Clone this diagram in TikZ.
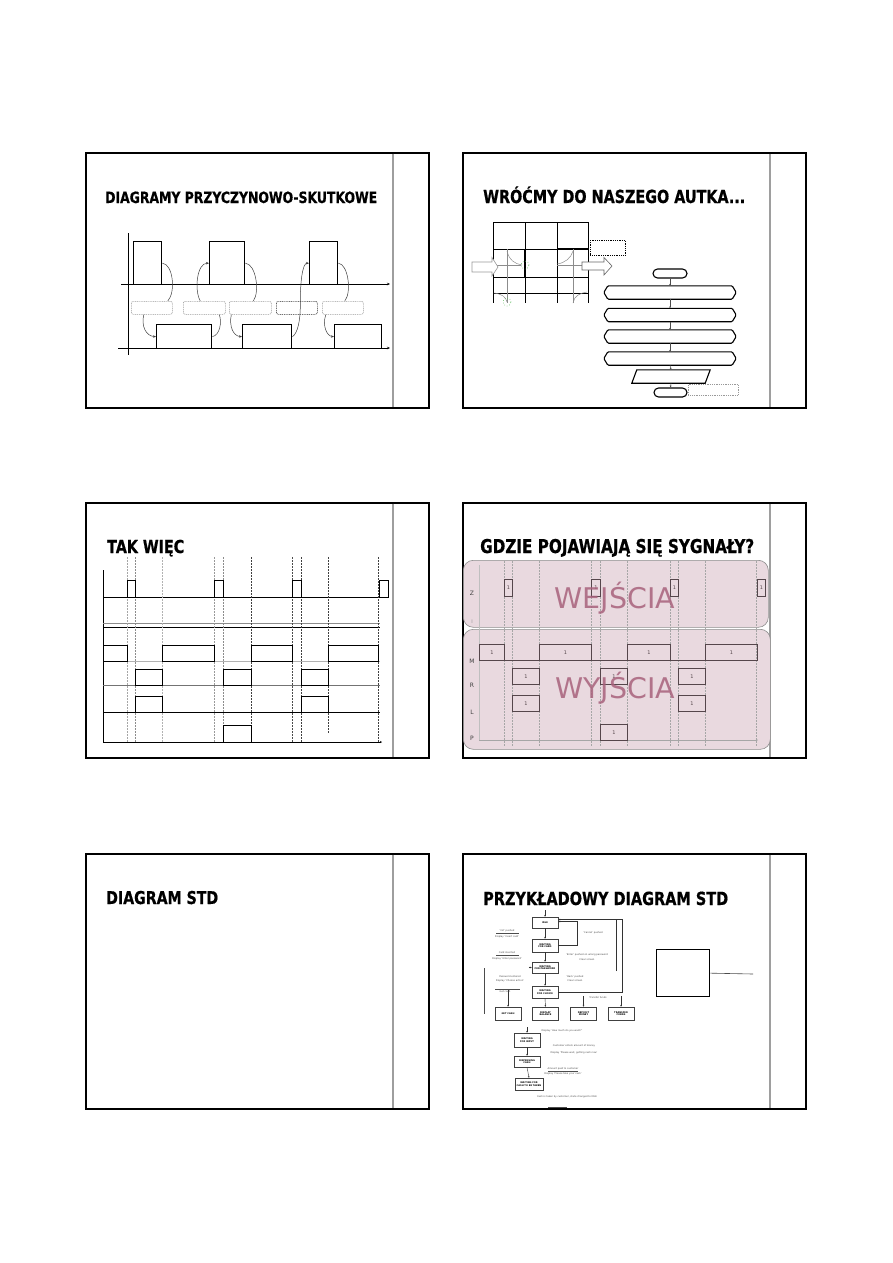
\documentclass[tikz,border=0pt]{standalone}
\usepackage{fontspec}
\setmainfont{DejaVu Sans}
\newfontfamily\tfont{DejaVu Sans}[FakeStretch=0.8,BoldFeatures={FakeBold=0.6}]
\usetikzlibrary{arrows.meta,calc,shadows}
\definecolor{pinkbg}{RGB}{233,217,223}
\definecolor{mauve}{RGB}{168,98,124}
\definecolor{boxc}{RGB}{85,70,75}
\definecolor{greenc}{RGB}{90,185,90}
\begin{document}
\begin{tikzpicture}[x=1pt,y=-1pt,
  frame/.style={draw=black,line width=1.3pt},
  divider/.style={draw=black!38,line width=1.6pt},
  ttl/.style={anchor=base west,inner sep=0pt,font=\tfont\bfseries},
  rbox/.style 2 args={draw=black,line width=1.4pt,inner sep=0pt,anchor=north west,minimum width=#1pt,minimum height=#2pt},
  dbox/.style 2 args={draw=black!40,dash pattern=on 1pt off 0.8pt,rounded corners=2pt,line width=0.6pt,inner sep=0pt,anchor=north west,minimum width=#1pt,minimum height=#2pt},
  hid/.style 2 args={inner sep=0pt,minimum width=#1pt,minimum height=#2pt},
  conn/.style={draw=black!75,line width=0.5pt},
  arr/.style={-{Stealth[length=3pt,width=2.4pt]}},
  axis/.style={draw=black,line width=0.7pt},
  dl/.style={dash pattern=on 1.8pt off 1.2pt,line width=0.6pt},
  pbox/.style 2 args={draw=boxc,line width=1pt,inner sep=0pt,anchor=north west,minimum width=#1pt,minimum height=#2pt,font=\fontsize{5}{5}\selectfont,text=boxc},
  std/.style={draw=black!75,fill=white,line width=0.5pt,inner sep=0pt,minimum width=26pt,minimum height=12pt,align=center,font=\fontsize{2.3}{2.6}\selectfont\bfseries,drop shadow={shadow xshift=0.7pt,shadow yshift=-0.7pt,opacity=0.45}},
  lbl/.style={inner sep=0pt,font=\fontsize{2.4}{2.8}\selectfont,text=black!70},
  sarr/.style={draw=black!80,line width=0.4pt,-{Stealth[length=1.8pt,width=1.6pt]}}
]
\useasboundingbox (0,0) rectangle (893,1263);
\fill[white] (0,0) rectangle (893,1263);

% ---------- frames ----------
\foreach \x/\y in {86/153,463/153,86/503,463/503,86/854,463/854}{
  \draw[frame] (\x,\y) rectangle ++(343,255);
  \draw[divider] (\x+307,\y+0.7) -- ++(0,253.6);
}

% ---------- slide 1 ----------
\node[ttl] (t1) at (105,203) {\resizebox{272pt}{!}{DIAGRAMY PRZYCZYNOWO-SKUTKOWE}};
\coordinate (v1a) at (128,233); \coordinate (v1b) at (128,355);
\coordinate (h1a) at (121,284); \coordinate (h1b) at (390,284);
\coordinate (h2a) at (118,348); \coordinate (h2b) at (390,348);
\draw[axis,line width=0.6pt] (v1a) -- (v1b);
\draw[axis,line width=0.6pt,-{Stealth[length=3pt,width=2.5pt]}] (h1a) -- (h1b);
\draw[axis,line width=0.6pt,-{Stealth[length=3pt,width=2.5pt]}] (h2a) -- (h2b);
\node[rbox={28}{43}] (a1) at (133,241) {};
\node[rbox={35}{43}] (a2) at (209,241) {};
\node[rbox={28}{43}] (a3) at (309,241) {};
\node[rbox={55}{24}] (b1) at (156,324) {};
\node[rbox={49}{24}] (b2) at (242,324) {};
\node[rbox={47}{24}] (b3) at (334,324) {};
\node[dbox={41}{13}] (d1) at (131,301) {};
\node[dbox={42}{13}] (d2) at (183,301) {};
\node[dbox={42}{13}] (d3) at (229,301) {};
\node[dbox={41}{13},draw=black!85] (d4) at (276,301) {};
\node[dbox={41}{13}] (d5) at (322,301) {};
\draw[conn] (a1.east) .. controls (173,264) and (176,292) .. ($(d1.north)+(16,0)$);
\draw[conn,arr] ($(d1.south)+(-8,0)$) .. controls (141,326) and (146,336) .. (b1.west);
\draw[conn] (b1.east) .. controls (220,335) and (222,322) .. ($(d2.south)+(15,0)$);
\draw[conn,arr] ($(d2.north)+(-4,0)$) .. controls (194,290) and (197,263) .. (a2.west);
\draw[conn] (a2.east) .. controls (256,264) and (260,292) .. ($(d3.north)+(3,0)$);
\draw[conn,arr] ($(d3.south)+(-19,0)$) .. controls (229,326) and (233,336) .. (b2.west);
\draw[conn,arr] (b2.east) .. controls (298,333) and (300,320) .. ($(d4.center)+(3.5,0)$) .. controls (300,285) and (302,263) .. (a3.west);
\draw[conn] (a3.east) .. controls (348,264) and (352,292) .. ($(d5.north)+(2,0)$);
\draw[conn,arr] ($(d5.south)+(-17,0)$) .. controls (322,326) and (327,336) .. (b3.west);

% ---------- slide 2 ----------
\node[ttl] (t2) at (483,203) {\resizebox{262pt}{!}{WRÓĆMY DO NASZEGO AUTKA...}};
\begin{scope}[line width=0.9pt]
\draw (493,222) rectangle (588,249);
\draw (525,222) -- (525,249) (557,222) -- (557,249);
\foreach \x in {493,525,557,588} \draw (\x,249) -- (\x,303);
\draw (493,277) -- (588,277) (493,293) -- (588,293);
\draw[line width=2pt] (557,249) -- (588,249);
\draw[line width=2pt] (525,249) -- (525,277);
\end{scope}
\begin{scope}[black!45,line width=0.5pt]
\draw (507,249) -- (507,303);
\draw (573,249) -- (573,303);
\draw (497,265) -- (521,265);
\draw (557,265) -- (582,265);
\draw (507,251) .. controls (509,260) and (515,264) .. (522,265);
\draw (494,293) .. controls (502,294) and (506,297) .. (507,302);
\draw (557,264) .. controls (565,263) and (571,258) .. (573,251);
\draw (573,303) .. controls (574,296) and (580,293) .. (587,292);
\end{scope}
\draw[black!40,fill=white,line width=0.6pt] (472,262) -- (492,262) -- (492,257.5) -- (498,267) -- (492,276) -- (492,272) -- (472,272) -- cycle;
\draw[black!60,fill=white,line width=0.6pt] (582,262) -- (604,262) -- (604,257.5) -- (612,266) -- (604,275) -- (604,270) -- (582,270) -- cycle;
\node[draw=greenc,dotted,circle,minimum size=8pt,inner sep=0pt,line width=0.6pt] (g1) at (525,265) {};
\node[draw=greenc,dotted,circle,minimum size=8pt,inner sep=0pt,line width=0.6pt] (g2) at (507,302) {};
\node[draw=black,dash pattern=on 1pt off 0.8pt,line width=0.8pt,inner sep=0pt,anchor=north west,minimum width=35pt,minimum height=15pt] (n2) at (590,240) {};
% flowchart
\node[draw,line width=1.1pt,rounded corners=4.5pt,inner sep=0pt,minimum width=34pt,minimum height=9pt] (s0) at (670,273.5) {};
\foreach \n/\y in {h1/292.5,h2/315,h3/336.5,h4/358.5}{
  \node[hid={132}{13}] (\n) at (670,\y) {};
  \draw[line width=1.1pt,rounded corners=1pt] (\n.west) -- ($(\n.north west)+(4,0)$) -- ($(\n.north east)+(-4,0)$) -- (\n.east) -- ($(\n.south east)+(-4,0)$) -- ($(\n.south west)+(4,0)$) -- cycle;
}
\node[hid={78}{13}] (pp) at (671,376.5) {};
\draw[line width=1.1pt] ($(pp.north west)+(5,0)$) -- (pp.north east) -- ($(pp.south east)+(-5,0)$) -- (pp.south west) -- cycle;
\node[draw,line width=1.1pt,rounded corners=4.5pt,inner sep=0pt,minimum width=33pt,minimum height=9pt] (e0) at (670.5,392.5) {};
\node[dbox={50}{11},rounded corners=0pt] (n3) at (688,384) {};
\foreach \a/\b in {s0/h1,h1/h2,h2/h3,h3/h4,h4/pp,pp/e0}
  \draw[black!70,line width=0.5pt,-{Stealth[length=2pt,width=1.8pt]}] (\a.south) -- (\b.north);

% ---------- slide 3 ----------
\node[ttl] (t3) at (107,553) {\resizebox{77pt}{!}{TAK WIĘC}};
\draw[axis] (103,570) -- (103,742);
\draw[axis,line width=0.6pt,-{Stealth[length=2pt,width=2pt]}] (103,742) -- (382,742);
\draw[line width=0.8pt] (103,597) -- (380,597);
\draw[black!45,line width=0.8pt] (103,623) -- (380,623);
\draw[line width=0.8pt] (103,627) -- (380,627);
\draw[black!30,line width=0.8pt] (103,661) -- (380,661);
\draw[black!55,line width=0.8pt] (103,685) -- (380,685);
\draw[line width=0.8pt] (103,712) -- (380,712);
\foreach \x/\c in {127/35,135/45,162/30,214/40,223/45,251/75,292/70,301/75,378/75}
  \draw[dl,black!\c] (\x,557) -- (\x,742);
\draw[dl,black!75] (328,557) -- (328,733);
\node[rbox={8}{17}] (z1) at (127,580) {};
\node[rbox={9}{17}] (z2) at (214,580) {};
\node[rbox={9}{17}] (z3) at (292,580) {};
\node[rbox={9}{17}] (z4) at (379,580) {};
\node[rbox={24}{16}] (m1) at (103,645) {};
\node[rbox={52}{16}] (m2) at (162,645) {};
\node[rbox={41}{16}] (m3) at (251,645) {};
\node[rbox={50}{16}] (m4) at (328,645) {};
\node[rbox={27}{16}] (r1) at (135,669) {};
\node[rbox={28}{16}] (r2) at (223,669) {};
\node[rbox={27}{16}] (r3) at (301,669) {};
\node[rbox={27}{16}] (l1) at (135,696) {};
\node[rbox={27}{16}] (l2) at (301,696) {};
\node[rbox={28}{17}] (p1) at (223,725) {};

% ---------- slide 4 ----------
\node[ttl] (t4) at (480,553) {\resizebox{274pt}{!}{GDZIE POJAWIAJĄ SIĘ SYGNAŁY?}};
\node[fill=pinkbg,draw=black!45,line width=0.6pt,rounded corners=10pt,inner sep=0pt,anchor=north west,minimum width=305pt,minimum height=67pt] (we) at (463,560) {};
\node[fill=pinkbg,draw=black!45,line width=0.6pt,rounded corners=10pt,inner sep=0pt,anchor=north west,minimum width=307pt,minimum height=120pt] (wy) at (463,629) {};
\draw[black!25,line width=0.5pt] (479,565) -- (479,740);
\draw[black!35,line width=0.4pt,-{Stealth[length=2pt,width=2pt]}] (479,740) -- (758,740);
\foreach \x in {504,512,539,591,600,627,670,678,705,756}
  \draw[dl,black!35,line width=0.45pt] (\x,561) -- (\x,746);
\draw[boxc,line width=0.9pt] (479,660) -- (756,660);
\node[pbox={8}{17}] (zz1) at (504,579) {1};
\node[pbox={9}{17}] (zz2) at (591,579) {1};
\node[pbox={8}{17}] (zz3) at (670,579) {1};
\node[pbox={8}{17}] (zz4) at (757,579) {1};
\node[pbox={25}{16}] (mm1) at (479,644) {1};
\node[pbox={52}{16}] (mm2) at (539,644) {1};
\node[pbox={43}{16}] (mm3) at (627,644) {1};
\node[pbox={52}{16}] (mm4) at (705,644) {1};
\node[pbox={27}{16}] (rr1) at (512,668) {1};
\node[pbox={27}{16}] (rr2) at (600,668) {1};
\node[pbox={27}{16}] (rr3) at (678,668) {1};
\node[pbox={27}{16}] (ll1) at (512,695) {1};
\node[pbox={27}{16}] (ll2) at (678,695) {1};
\node[pbox={27}{16}] (pp1) at (600,724) {1};
\foreach \t/\y in {Z/593,M/661,R/685,L/712,P/738}
  \node[inner sep=0pt,font=\fontsize{6}{6}\selectfont,text=black!75] (lab\t) at (472,\y) {\t};
\node[inner sep=0pt,font=\fontsize{5}{5}\selectfont,text=black!40] (labI) at (472,622) {I};
\node[anchor=base,inner sep=0pt,font=\fontsize{28.5}{28.5}\selectfont,text=mauve,opacity=0.85] (wej) at (615,608) {WEJŚCIA};
\node[anchor=base,inner sep=0pt,font=\fontsize{28.5}{28.5}\selectfont,text=mauve,opacity=0.85] (wyj) at (615,698) {WYJŚCIA};

% ---------- slide 5 ----------
\node[ttl] (t5) at (106,904) {\resizebox{112pt}{!}{DIAGRAM STD}};

% ---------- slide 6 ----------
\node[ttl] (t6) at (483,905) {\resizebox{245pt}{!}{PRZYKŁADOWY DIAGRAM STD}};
\node[draw,line width=1.3pt,inner sep=0pt,anchor=north west,minimum width=53pt,minimum height=47pt] (sq) at (656,949) {};
\coordinate (sqe) at (753,974);
\draw[black!70,line width=0.6pt] (sq.east) -- (sqe);
\node[std,minimum height=11pt] (idle) at (545,922.5) {IDLE};
\node[std,minimum height=13pt] (wcard) at (545,945.5) {WAITING\\FOR CARD};
\node[std,minimum height=11pt] (wpass) at (545,967.5) {WAITING\\FOR PASSWORD};
\node[std] (wchoice) at (545,992) {WAITING\\FOR CHOICE};
\node[std,minimum height=13pt] (gcash) at (508,1013.5) {GET CASH};
\node[std,minimum height=13pt] (dbal) at (545.5,1013.5) {DISPLAY\\BALANCE};
\node[std,minimum height=13pt] (dmon) at (583.5,1013.5) {DEPOSIT\\MONEY};
\node[std,minimum height=13pt] (tfun) at (621,1013.5) {TRANSFER\\FUNDS};
\node[std,minimum height=14pt] (winp) at (527,1040) {WAITING\\FOR INPUT};
\node[std,minimum height=11pt] (disp) at (527,1061.5) {DISPENSING\\CASH};
\node[std,minimum width=28pt] (wtake) at (529,1084) {WAITING FOR\\CASH TO BE TAKEN};
\coordinate (in0) at (545,910);
\draw[sarr] (in0) -- (idle.north);
\draw[sarr] (idle.south) -- (wcard.north);
\draw[sarr] (wcard.south) -- (wpass.north);
\draw[sarr] (wpass.south) -- (wchoice.north);
\draw[sarr] (wcard.east) -| (577,921.5) -- ($(idle.east)+(0,-1)$);
\draw[sarr] (wchoice.east) -- (622,992) -- (622,919.5) -- ($(idle.east)+(0,-3)$);
\draw[black!80,line width=0.4pt] (616,971) -- (616,919.5);
\draw[black!70,line width=0.4pt] (484,968) -- (484,1014);
\coordinate (gc0) at (508,990);
\coordinate (dm0) at (583.5,996);
\coordinate (tf0) at (621,996);
\coordinate (wi0) at (527,1027);
\draw[sarr] (gc0) -- (gcash.north);
\draw[sarr] (wchoice.south) -- (dbal.north);
\draw[sarr] (dm0) -- (dmon.north);
\draw[sarr] (tf0) -- (tfun.north);
\draw[sarr] (wi0) -- (winp.north);
\draw[sarr] (winp.south) -- (disp.north);
\draw[sarr] (disp.south) -- (wtake.north);
\draw[sarr] ($(wpass.west)+(-3,0)$) -- (wpass.west);
% labels
\node[lbl] (e1a) at (507,931) {`Init' pushed};
\draw[black!70,line width=0.3pt] (496,933.3) -- (519,933.3);
\node[lbl] (e1b) at (507,936.5) {Display `Insert card'};
\node[lbl] (e2) at (593,933) {`Cancel' pushed};
\node[lbl] (e3a) at (507,953) {Card inserted};
\draw[black!70,line width=0.3pt] (496,955.3) -- (519,955.3);
\node[lbl] (e3b) at (507,958.5) {Display `Enter password'};
\node[lbl] (e4a) at (587,955) {`Enter' pushed on wrong password};
\node[lbl] (e4b) at (587,959.5) {Clear screen};
\node[lbl] (e5a) at (510,976.5) {Password entered};
\node[lbl] (e5b) at (510,981) {Display `Choose action'};
\node[lbl] (e6a) at (575,976.5) {`Back' pushed};
\node[lbl] (e6b) at (575,981) {Clear screen};
\draw[black!70,line width=0.3pt] (495,989) -- (520,989);
\node[lbl] (e7) at (505,992) {Get cash};
\node[lbl] (e8) at (598,998) {Transfer funds};
\node[lbl] (e9) at (562,1031) {Display `How much do you want?'};
\node[lbl] (e10a) at (574,1046) {Customer enters amount of money};
\node[lbl] (e10b) at (574,1052.5) {Display `Please wait, getting cash now'};
\node[lbl] (e11a) at (563,1069) {Amount paid to customer};
\draw[black!70,line width=0.3pt] (548,1071.3) -- (578,1071.3);
\node[lbl] (e11b) at (563,1074) {Display `Please take your cash'};
\node[lbl] (e12) at (567,1097) {Cash is taken by customer, state changed to IDLE};
\draw[black!70,line width=0.3pt] (548,1107) -- (567,1107);
\end{tikzpicture}
\end{document}
